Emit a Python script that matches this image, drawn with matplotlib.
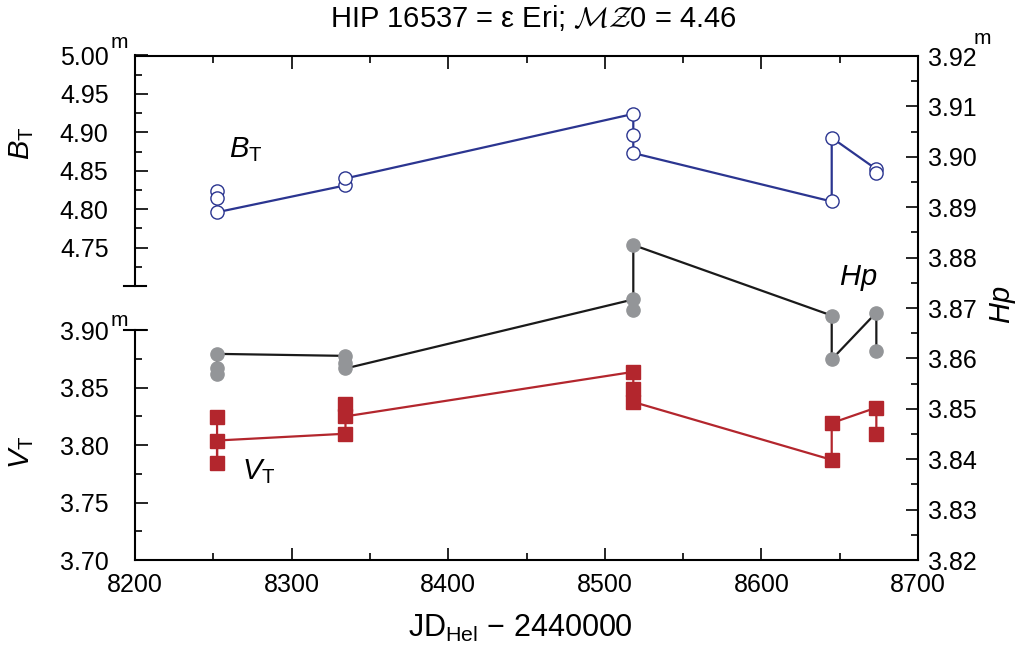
import matplotlib.pyplot as plt
from matplotlib.ticker import FixedLocator, MultipleLocator

# -------------------------- 字体设置 --------------------------
plt.rcParams['font.family'] = ['Liberation Sans', 'DejaVu Sans']
plt.rcParams['mathtext.fontset'] = 'custom'
plt.rcParams['mathtext.rm'] = 'Liberation Sans'
plt.rcParams['mathtext.it'] = 'Liberation Sans:italic'

# -------------------------- 数据--------------------------
jd_bt = [8252.4, 8252.4, 8252.4, 8334.4, 8334.4, 8518.2, 8518.2, 8518.2,
         8644.9, 8644.9, 8673.4, 8673.4]
bt = [4.823, 4.814, 4.796, 4.831, 4.840, 4.924, 4.897, 4.873,
      4.810, 4.893, 4.852, 4.847]

jd_hp = [8252.4, 8252.4, 8252.4, 8334.4, 8334.4, 8334.4, 8518.2, 8518.2, 8518.2,
         8644.9, 8644.9, 8673.4, 8673.4]
hp = [3.8569, 3.8580, 3.8609, 3.8605, 3.8590, 3.8580, 3.8717, 3.8696, 3.8825,
      3.8685, 3.8598, 3.8691, 3.8615]

jd_vt = [8252.4, 8252.4, 8252.4, 8334.4, 8334.4, 8334.4, 8518.2, 8518.2, 8518.2,
         8644.9, 8644.9, 8673.4, 8673.4]
vt = [3.8243, 3.7841, 3.8039, 3.8098, 3.8354, 3.8249, 3.8636, 3.8491, 3.8374,
      3.7871, 3.8191, 3.8325, 3.8092]

bt_ticks = [4.75, 4.80, 4.85, 4.90, 4.95, 5.00]
vt_ticks = [3.70, 3.75, 3.80, 3.85, 3.90]

C_BLUE = '#2b3590'
C_RED = '#b3262d'
C_GRAY = '#939598'
LW_FRAME = 1.5
LW_DATA = 1.6
FS = 18
FS_BIG = 21

W, H = 1019, 648
fig = plt.figure(figsize=(W / 100, H / 100), dpi=100)

L, R = 135 / W, 918 / W
B, T = 1 - 560 / H, 1 - 56 / H

# -------------------------- 主坐标轴（Hp，右侧）--------------------------
ax = fig.add_axes([L, B, R - L, T - B])
ax.set_xlim(8200, 8700)
ax.set_ylim(3.82, 3.92)
ax.spines['left'].set_visible(False)
for s in ['top', 'bottom', 'right']:
    ax.spines[s].set_linewidth(LW_FRAME)
ax.yaxis.tick_right()
ax.xaxis.set_major_locator(MultipleLocator(100))
ax.xaxis.set_minor_locator(MultipleLocator(50))
ax.yaxis.set_major_locator(MultipleLocator(0.01))
ax.yaxis.set_minor_locator(MultipleLocator(0.005))
ax.tick_params(axis='x', which='both', direction='in', top=True, bottom=True,
               labelsize=FS, pad=9, width=1.2)
ax.tick_params(axis='y', which='both', direction='in', left=False, right=True,
               labelsize=FS, pad=7, width=1.2)
ax.tick_params(which='major', length=9)
ax.tick_params(which='minor', length=5)
ax.yaxis.set_major_formatter(lambda v, p: f'{v:.2f}')

ax.plot(jd_hp, hp, color='#1a1a1a', lw=LW_DATA, marker='o', ms=9.5,
        mfc=C_GRAY, mec=C_GRAY, zorder=3)

# -------------------------- 上半部分（B_T）--------------------------
bt_top, bt_bot = 55.5, 286
ax_bt = fig.add_axes([L, 1 - bt_bot / H, R - L, (bt_bot - bt_top) / H])
ax_bt.set_xlim(8200, 8700)
ax_bt.set_ylim(4.70, 5.00)
ax_bt.patch.set_visible(False)
for s in ['top', 'bottom', 'right']:
    ax_bt.spines[s].set_visible(False)
ax_bt.spines['left'].set_linewidth(LW_FRAME)
ax_bt.set_xticks([])
ax_bt.yaxis.set_major_locator(FixedLocator(bt_ticks))
ax_bt.yaxis.set_minor_locator(MultipleLocator(0.025))
ax_bt.tick_params(axis='y', which='both', direction='in', labelsize=FS,
                  pad=19, width=1.2)
ax_bt.tick_params(which='major', length=9)
ax_bt.tick_params(which='minor', length=5)
ax_bt.yaxis.set_major_formatter(lambda v, p: f'{v:.2f}')
ax_bt.axhline(4.70, xmin=-0.014, xmax=0.014, color='k', lw=LW_FRAME, clip_on=False)

ax_bt.plot(jd_bt, bt, color=C_BLUE, lw=LW_DATA, marker='o', ms=9.5,
           mfc='white', mec=C_BLUE, mew=1.0, zorder=3)

# -------------------------- 下半部分（V_T）--------------------------
vt_top, vt_bot = 330, 560
ax_vt = fig.add_axes([L, 1 - vt_bot / H, R - L, (vt_bot - vt_top) / H])
ax_vt.set_xlim(8200, 8700)
ax_vt.set_ylim(3.70, 3.90)
ax_vt.patch.set_visible(False)
for s in ['top', 'bottom', 'right']:
    ax_vt.spines[s].set_visible(False)
ax_vt.spines['left'].set_linewidth(LW_FRAME)
ax_vt.set_xticks([])
ax_vt.yaxis.set_major_locator(FixedLocator(vt_ticks))
ax_vt.yaxis.set_minor_locator(MultipleLocator(0.025))
ax_vt.tick_params(axis='y', which='both', direction='in', labelsize=FS,
                  pad=19, width=1.2)
ax_vt.tick_params(which='major', length=9)
ax_vt.tick_params(which='minor', length=5)
ax_vt.yaxis.set_major_formatter(lambda v, p: f'{v:.2f}')
ax_vt.axhline(3.90, xmin=-0.014, xmax=0.014, color='k', lw=LW_FRAME, clip_on=False)

ax_vt.plot(jd_vt, vt, color=C_RED, lw=LW_DATA, marker='s', ms=9.5,
           mfc=C_RED, mec=C_RED, zorder=3)

# -------------------------- 文字标注 --------------------------
def ftext(x, y, s, **kw):
    fig.text(x / W, 1 - y / H, s, **kw)

ftext(533, 18, r'HIP 16537 = ε Eri; $\mathcal{MZ}$0 = 4.46', fontsize=FS_BIG,
      ha='center', va='center', math_fontfamily='cm')
ftext(520, 628, r'JD$_{\rm Hel}$ − 2440000', fontsize=FS_BIG + 1,
      ha='center', va='center')

ftext(119, 42, 'm', fontsize=15, ha='center', va='center')
ftext(119, 321, 'm', fontsize=15, ha='center', va='center')
ftext(982, 39, 'm', fontsize=15, ha='center', va='center')

ftext(22, 143, r'$B_{\rm T}$', fontsize=FS_BIG, ha='center', va='center', rotation=90)
ftext(22, 452, r'$V_{\rm T}$', fontsize=FS_BIG, ha='center', va='center', rotation=90)
ftext(1003, 305, r'$Hp$', fontsize=FS_BIG, ha='center', va='center', rotation=90)

ftext(246, 150, r'$B_{\rm T}$', fontsize=FS_BIG, ha='center', va='center')
ftext(858, 278, r'$Hp$', fontsize=FS_BIG, ha='center', va='center')
ftext(259, 472, r'$V_{\rm T}$', fontsize=FS_BIG, ha='center', va='center')

fig.savefig('out.png', dpi=100)
